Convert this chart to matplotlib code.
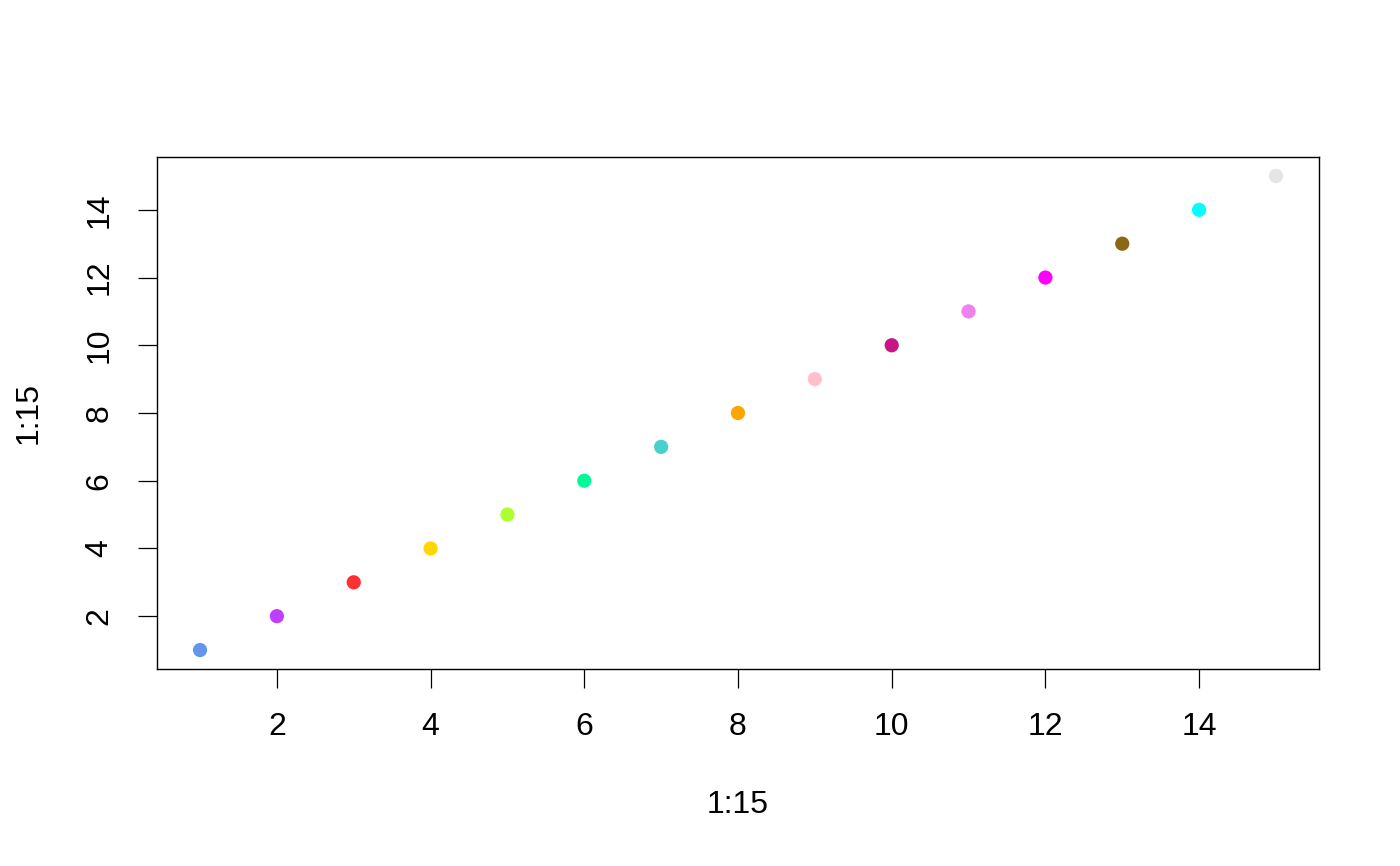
import matplotlib
matplotlib.use("Agg")
import matplotlib.pyplot as plt

plt.rcParams['font.family'] = ['Liberation Sans', 'DejaVu Sans']

# data: plot(1:15, 1:15, col=..., pch=19)
x = list(range(1, 16))
y = list(range(1, 16))
colors = ['#6495ED', '#BF3EFF', '#FF3030', '#FFD700', '#ADFF2F',
          '#00FA9A', '#48D1CC', '#FFA500', '#FFC0CB', '#C71585',
          '#EE82EE', '#FF00FF', '#8B6914', '#00FFFF', '#E5E5E5']
xticks = [2, 4, 6, 8, 10, 12, 14]
yticks = [2, 4, 6, 8, 10, 12, 14]

fig = plt.figure(figsize=(14, 8.66), dpi=100)
ax = fig.add_axes([157/1400, 1 - 669/866, (1319-157)/1400, (669-157)/866])

ax.scatter(x, y, c=colors, s=105, linewidths=0)

# R style 4% padding
pad = 0.04 * (max(x) - min(x))
ax.set_xlim(min(x) - pad, max(x) + pad)
pad = 0.04 * (max(y) - min(y))
ax.set_ylim(min(y) - pad, max(y) + pad)

ax.set_xticks(xticks)
ax.set_yticks(yticks)
ax.set_yticklabels([str(v) for v in yticks], rotation=90, va='center')
ax.tick_params(axis='both', direction='out', length=13.7, width=0.9,
               labelsize=23)
ax.tick_params(axis='x', pad=17)
ax.tick_params(axis='y', pad=17)

for s in ax.spines.values():
    s.set_linewidth(1.0)

ax.set_xlabel('1:15', fontsize=23, labelpad=35)
ax.set_ylabel('1:15', fontsize=23, labelpad=29)

fig.savefig('out.png', dpi=100)
